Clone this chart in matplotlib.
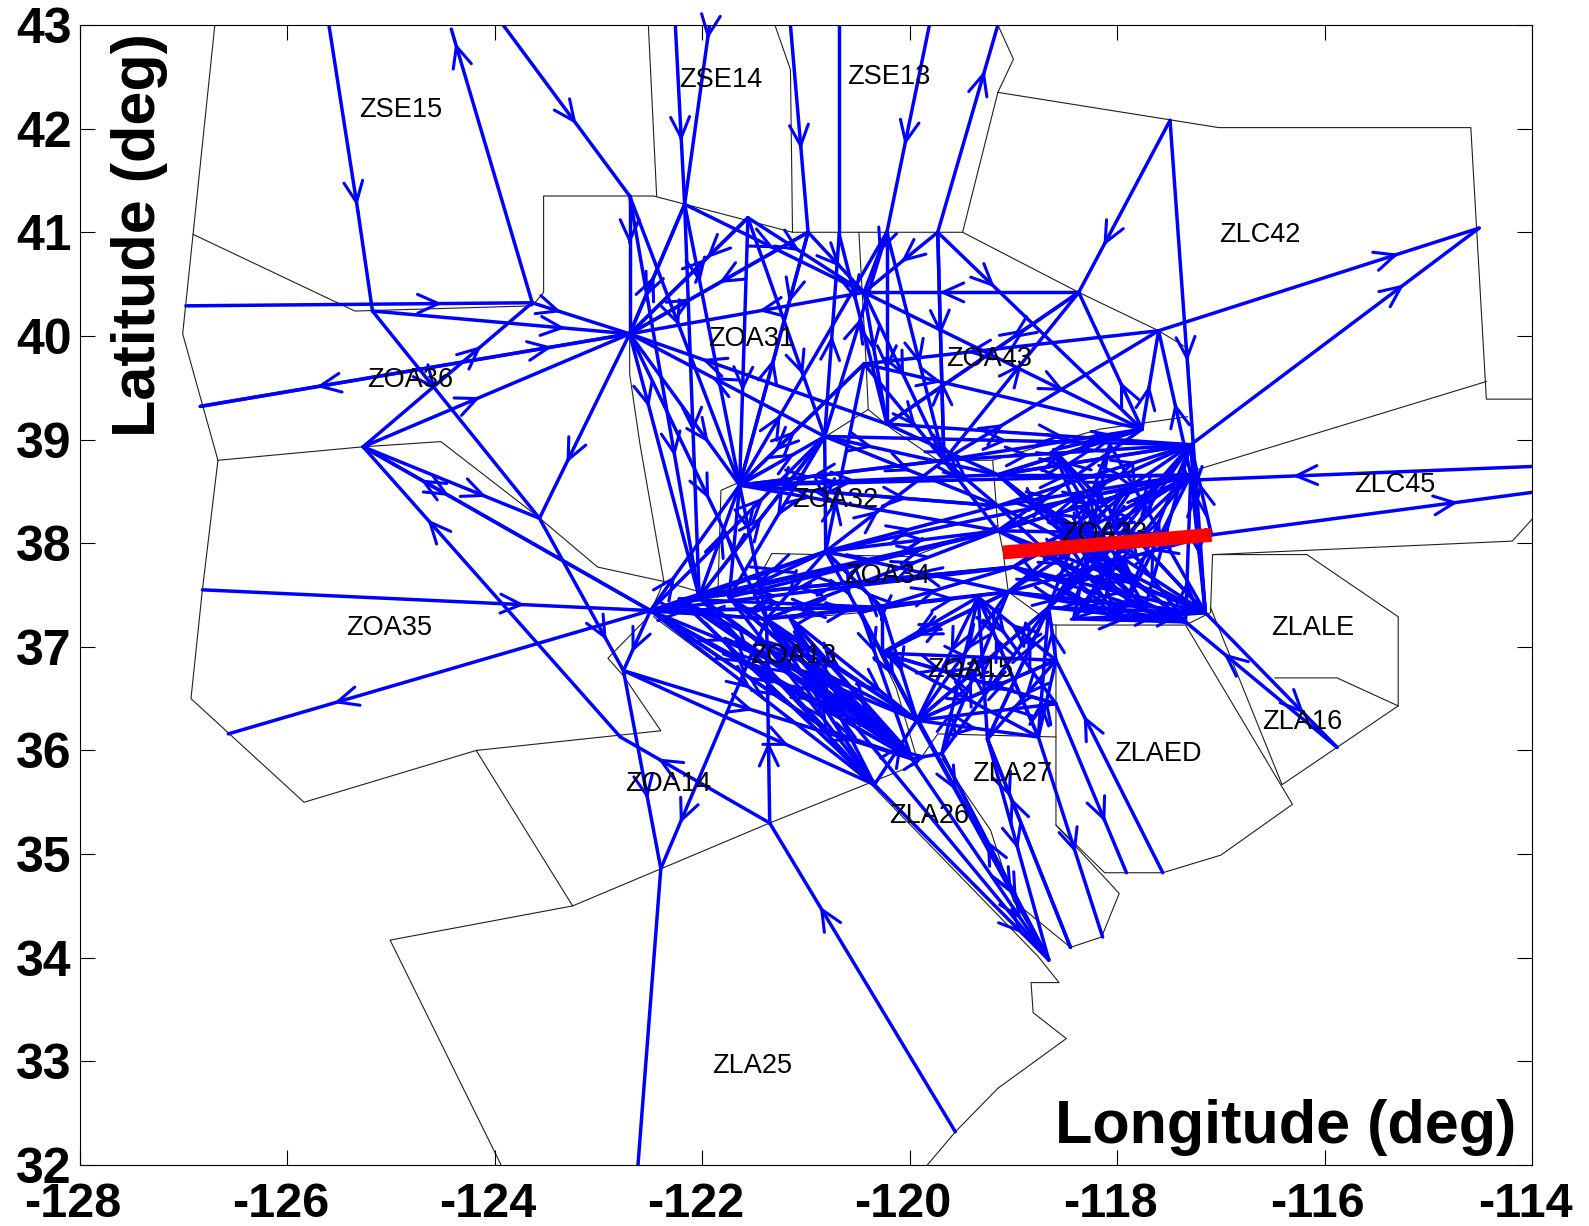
import matplotlib
matplotlib.use("Agg")
import matplotlib.pyplot as plt
from matplotlib.transforms import ScaledTranslation

plt.rcParams['font.family'] = ['Liberation Sans', 'DejaVu Sans']

xticks = [-128, -126, -124, -122, -120, -118, -116, -114]
yticks = list(range(32, 44))

boundaries = [
    [(-126.70,43.0),(-126.91,40.98),(-127.01,40.02),(-126.67,38.80),(-126.82,37.55),(-126.93,36.50),(-125.84,35.50),(-124.18,36.0),(-122.40,36.19),(-122.76,36.72),(-122.91,36.89),(-122.52,37.29)],
    [(-126.91,40.98),(-125.35,40.24),(-123.64,40.29),(-123.53,40.42),(-123.53,41.35),(-122.47,41.35),(-121.13,41.0),(-119.49,41.0),(-118.37,40.42),(-117.60,40.05),(-117.32,39.88),(-117.26,38.95),(-117.26,38.70),(-114.44,39.56)],
    [(-122.52,43),(-122.44,41.35)],
    [(-121.30,43),(-121.15,42.57),(-121.13,41.0)],
    [(-119.15,43),(-119.0,42.67),(-119.15,42.35),(-119.49,41.0)],
    [(-119.15,42.35),(-117.02,42.01),(-114.59,42.01),(-114.44,39.39),(-114,39.39)],
    [(-120.49,41),(-120.42,39.73),(-120.40,39.29),(-120.17,39.10),(-119.73,38.80),(-119.20,38.80),(-118.17,39.10),(-117.32,39.22)],
    [(-122.70,41.35),(-122.70,39.63),(-122.60,38.95),(-122.37,37.63),(-123.01,37.77),(-123.59,38.26),(-124.52,38.98),(-125.27,38.93),(-126.67,38.80)],
    [(-120.40,39.29),(-120.81,39.03),(-121.59,38.61),(-121.82,38.51),(-121.85,37.48),(-122.37,37.63),(-122.52,37.29)],
    [(-119.20,38.80),(-119.15,38.17),(-119.10,37.92),(-119.05,37.53),(-118.61,37.21),(-117.34,37.21),(-117.10,37.33),(-117.08,37.89),(-116.17,37.89),(-115.29,37.29),(-115.29,36.43),(-115.88,36.70),(-116.48,36.70)],
    [(-117.10,37.38),(-116.41,35.67),(-115.29,36.43)],
    [(-117.34,37.21),(-116.31,35.48),(-117.0,34.99),(-117.56,34.82),(-118.12,34.82),(-118.59,35.28),(-118.59,37.21)],
    [(-117.08,37.89),(-114.19,38.02),(-114,38.23)],
    [(-119.15,38.17),(-119.98,37.87),(-121.33,37.90),(-121.49,37.60),(-121.85,37.48)],
    [(-121.49,37.60),(-121.15,37.27),(-120.47,37.33),(-119.49,37.48),(-119.05,37.53)],
    [(-120.47,37.33),(-120.13,36.60),(-119.93,35.92)],
    [(-122.47,37.29),(-121.15,36.31),(-120.37,35.67),(-118.76,34.01),(-118.56,33.76),(-118.83,33.76),(-118.81,33.47),(-118.49,33.22),(-119.15,32.74),(-119.56,32.32),(-119.83,32.0)],
    [(-123.94,32),(-125.01,34.17),(-123.25,34.50),(-121.35,35.30),(-119.93,35.87),(-119.73,36.16),(-118.59,36.13)],
    [(-124.18,36.0),(-123.25,34.50)],
    [(-119.69,35.92),(-119.22,35.23),(-119.0,34.55),(-118.66,34.01)],
    [(-118.59,35.28),(-117.98,34.62),(-118.15,34.20),(-118.45,34.10),(-119.0,34.55)],
]

sector_names = ['ZSE15','ZSE14','ZSE13','ZLC42','ZOA31','ZOA43','ZOA36','ZOA32','ZLC45','ZOA33','ZOA34',
                'ZOA35','ZLALE','ZOA13','ZOA15','ZLA16','ZLAED','ZLA27','ZOA14','ZLA26','ZLA25']
sector_lon = [-124.91,-121.82,-120.20,-116.62,-121.53,-119.23,-124.82,-120.72,-115.32,-118.12,-120.22,
              -125.02,-116.11,-121.12,-119.42,-116.22,-117.61,-119.01,-122.33,-119.81,-121.52]
sector_lat = [42.18,42.47,42.50,40.97,39.97,39.78,39.57,38.42,38.56,38.09,37.68,
              37.18,37.18,36.91,36.78,36.27,35.97,35.77,35.68,35.37,32.96]

waypoints = {
    'A':(-122.70,40.02),'W':(-122.70,41.35),'V':(-122.17,41.27),'U':(-121.56,41.14),'T':(-120.98,41.0),
    'T2':(-120.68,40.98),'S':(-120.22,41.0),'R':(-119.73,41.0),'Z':(-120.44,40.42),'Q':(-118.37,40.42),
    'P':(-117.60,40.05),'B':(-117.49,42.08),'C':(-114.51,41.04),'Z2':(-120.44,39.73),'AA':(-120.82,39.03),
    'AB':(-120.22,39.15),'AC':(-119.67,38.80),'AD':(-121.64,38.56),'AE':(-120.81,37.92),
    'O':(-117.29,38.95),'O2':(-117.76,39.10),'O3':(-117.29,38.66),'e8':(-118.61,38.90),'e9':(-118.07,38.95),
    'e1':(-119.15,38.66),'e2':(-119.15,38.36),'e3':(-119.15,38.12),'e4':(-119.0,37.77),'e5':(-118.66,37.38),
    'e6':(-117.99,37.26),'e7':(-119.05,37.53),'e10':(-117.73,37.38),'e11':(-118.42,37.27),'e12':(-118.71,38.36),
    'e13':(-117.83,38.56),'e14':(-118.22,37.77),'N':(-117.15,37.33),'N2':(-117.34,37.24),
    'F':(-122.50,37.35),'m2':(-122.22,37.46),'AG':(-122.03,37.48),'m4':(-121.74,37.48),'AH':(-121.38,37.27),
    'm6':(-121.15,37.27),'m7':(-120.47,37.33),'AI':(-120.27,37.38),'AJ':(-120.27,36.94),'AK':(-119.93,36.29),
    'AN':(-119.34,37.48),'AL':(-118.59,36.87),'AM':(-118.59,36.45),'AQ':(-119.25,36.11),'AS':(-118.76,36.13),
    'AR':(-119.69,35.97),'K':(-119.98,35.92),'K2':(-120.03,36.01),'J':(-120.34,35.67),'c1':(-120.80,36.20),
    'I':(-121.35,35.30),'H':(-122.40,34.86),'G':(-122.76,36.77),'L':(-118.66,33.98),'M':(-115.88,36.03),
    'AT':(-117.56,34.82),'AU':(-117.91,34.82),'AV':(-118.45,34.10),'AW':(-118.14,34.20),
    'AX':(-119.56,32.32),'AY':(-122.62,32.0),'D':(-125.27,38.93),'E':(-123.57,38.24),'X':(-123.64,40.32),
    'Y':(-125.18,40.24),'n1':(-125.60,43.0),'n1b':(-125.32,41.2),'n2':(-124.42,42.96),'n3':(-123.92,43.0),
    'n4':(-122.26,43.0),'n5':(-121.93,43.0),'n6':(-121.15,43.0),'n7':(-120.68,43.0),'n8':(-119.81,43.0),
    'n9':(-119.15,43.0),'w1':(-126.98,40.29),'w2':(-126.84,39.32),'w3':(-126.57,36.16),'w4':(-126.82,37.55),
    'w5':(-122.79,36.13),'x1':(-114.0,38.74),'x2':(-114.0,38.49),'R2':(-117.09,38.08),'x3':(-117.25,38.61),
}

routes_outer = """n1-n1b n1b-Y Y-E E-G G-H X-n2 n3-W n4-V n5-V n6-T n7-T2 n8-S R-n9 w1-X X-A Y-A w2-A A-w2
D-A D-X A-E D-E D-F F-D w5-D I-w5 F-w3 w4-F F-G AY-H AH-H AX-I I-AH G-K G-J
x1-x3 R2-x2 O-C P-C B-Q B-N N-M M-N2""".split()

routes_north = """W-A W-AG W-AD V-A V-AD V-AG V-Z U-A U-AD U-Z U-AA T-AD T-Z T-A A-T A-U A-V A-AD A-AG A-AH
R-Z S-Z Q-Z Z-A Z-O2 R-O2 S-AC Z-AC Q-AB P-Z2 R-AC S-AB AC-P AA-A AA-T2 T2-AB AD-AA AD-Z2 Z2-AD Z2-O2
AB-O AA-O AC-O AC-O2 O2-P AB-A AE-Z2 AA-S AD-T AC-R Z2-AC Z-AB AB-Q AD-S AC-Q O3-P O2-Q F-AA""".split()

routes_centre = """AD-e1 AD-O3 AD-e3 AE-e3 AA-e2 AD-AC AC-AD AE-AC AE-O3 F-AD AG-AD AG-AA AD-AH AD-m4 AE-AG F-AE e3-F AG-e3
e7-AE AH-e7 AH-e3 m4-AE AE-AI AI-AE AA-AE AA-m4 AA-AG AD-e2 AC-e2 e2-AD AC-e3 AB-e1 AE-e2 F-e4 e4-m2 AG-e4
F-AI F-AH AH-F m2-AI AI-F AE-AH AE-AJ m4-e3 AA-e1 AI-e7 m7-e4""".split()

routes_east = """e1-O e1-O3 e1-O2 e2-O e2-O3 e3-O e3-O3 e3-O2 e4-O e4-O3 e5-O e5-O3 e6-O e6-O3
e8-N e8-N2 e8-e10 e8-e6 e9-N e9-e5 e9-e11 e12-N e12-N2 e12-e6 e12-e10 e13-e5 e13-e7 e14-e7 e14-N e14-O e14-e5
e1-N2 e1-e10 e2-N e2-e6 e3-N e3-N2 e3-e10 e4-N2 e4-e6 e4-N e5-N e5-N2 e11-N e11-N2 e6-N e7-N2 e7-e10 e7-N
O-e5 O-e11 O3-e7 O3-e3 O-N O3-N e10-O e11-O3 N-e8 N2-e1 N-O N2-O3 R2-O R2-e14 e3-R2 O-e1 O2-e1 e8-O2""".split()

routes_south = """AI-AJ AI-AK AJ-AL AJ-AK AN-AJ AN-AK AN-AQ AN-AS AL-AN AL-AK AM-AK AM-AJ AL-AQ AS-AN AR-AN AJ-AS AS-AL
e5-AQ e5-AK e7-AK e7-AJ e5-AR AK-e5 AJ-e7 AN-AM AK-AL AR-e7 AQ-e5 AS-e5 AL-e5 AK-AS AJ-AM
AT-AL AM-AU AV-AQ AQ-AV AS-AW K-L AR-L J-L AJ-L AK-L AH-L L-AR AQ-L
F-K F-K2 F-J F-c1 F-AK m2-K m2-K2 m2-J m2-AK AG-K AG-K2 AG-J AG-c1 m4-K m4-K2 m4-J m4-AK AH-K AH-K2 AH-J AH-AK
m6-K m6-K2 m6-J m6-AK m7-K m7-AK J-AH K-m4 K2-AG c1-F J-m2 K-F K-AH K-AR c1-K J-AK AH-AI""".split()

arrow_at = {
    'n1-n1b':0.97,'n1b-Y':None,'Y-E':0.38,'E-G':0.8,'G-H':0.65,'X-n2':0.95,'n3-W':0.58,'n4-V':0.65,'n5-V':0.08,
    'n6-T':0.6,'n7-T2':None,'n8-S':0.58,'R-n9':0.78,'w1-X':0.74,'X-A':0.3,'Y-A':0.75,'w2-A':0.82,'A-w2':0.73,
    'D-A':0.44,'D-X':0.7,'A-E':0.7,'D-E':0.7,'D-F':0.3,'F-D':0.8,'w5-D':0.75,'I-w5':0.75,'F-w3':0.75,'w4-F':0.72,
    'F-G':0.7,'AY-H':None,'AH-H':0.82,'AX-I':0.73,'I-AH':0.4,'G-K':0.45,'G-J':0.66,'x1-x3':0.71,'R2-x2':0.77,
    'O-C':0.74,'P-C':0.75,'B-Q':0.73,'B-N':0.49,'N-M':0.75,'M-N2':0.75,'K-L':0.8,'J-L':0.85,'AR-L':0.7,
    'AT-AL':0.74,'AM-AU':0.7,
}
default_positions = [0.5, 0.35, 0.65, 0.45, 0.72, 0.28, 0.58]

red_lon = [-119.10, -117.09]
red_lat = [37.91, 38.08]

fig = plt.figure(figsize=(15.89, 12.26), dpi=100)
ax = fig.add_axes([80/1589, 1-1165/1226, (1532-80)/1589, (1165-25)/1226])
ax.set_xlim(-128, -114)
ax.set_ylim(32, 43)

for b in boundaries:
    ax.plot([p[0] for p in b], [p[1] for p in b], color='#202020', lw=0.8, zorder=1)

all_routes = routes_outer + routes_north + routes_centre + routes_east + routes_south
for i, r in enumerate(all_routes):
    a, b = r.split('-')
    x0, y0 = waypoints[a]
    x1, y1 = waypoints[b]
    ax.plot([x0, x1], [y0, y1], color='#0000ff', lw=2.5, zorder=2, solid_capstyle='round')
    t = arrow_at.get(r, default_positions[i % len(default_positions)])
    if t is None:
        continue
    tip = (x0 + (x1-x0)*t, y0 + (y1-y0)*t)
    tail = (x0 + (x1-x0)*(t-0.02), y0 + (y1-y0)*(t-0.02))
    ax.annotate('', xy=tip, xytext=tail, zorder=2,
                arrowprops=dict(arrowstyle='->,head_length=0.75,head_width=0.34', color='#0000ff',
                                lw=2.2, mutation_scale=20, shrinkA=0, shrinkB=0))

for name, lo, la in zip(sector_names, sector_lon, sector_lat):
    ax.text(lo, la, name, fontsize=19.5, ha='center', va='center', color='black', zorder=3)

ax.plot(red_lon, red_lat, color='#ff0000', lw=10, solid_capstyle='butt', zorder=4)

ax.set_xticks(xticks)
ax.set_yticks(yticks)
ax.set_xticklabels([str(v) for v in xticks], fontsize=35, fontweight='bold')
ax.set_yticklabels([str(v) for v in yticks], fontsize=36, fontweight='bold')
ax.tick_params(direction='in', length=11, width=0.8, top=True, right=True, pad=6)
ax.tick_params(axis='x', pad=12)
shift = ScaledTranslation(-7/100, 0, fig.dpi_scale_trans)
for lab in ax.get_xticklabels():
    lab.set_transform(lab.get_transform() + shift)
for s in ax.spines.values():
    s.set_linewidth(0.8)

ax.set_xlabel('Longitude (deg)', fontsize=44, fontweight='bold', ha='center', va='center', zorder=5)
ax.set_ylabel('Latitude (deg)', fontsize=44, fontweight='bold', ha='center', va='center', zorder=5)
ax.xaxis.set_label_coords(0.83, 0.033)
ax.yaxis.set_label_coords(0.041, 0.816)

fig.savefig('out.png', dpi=100)
